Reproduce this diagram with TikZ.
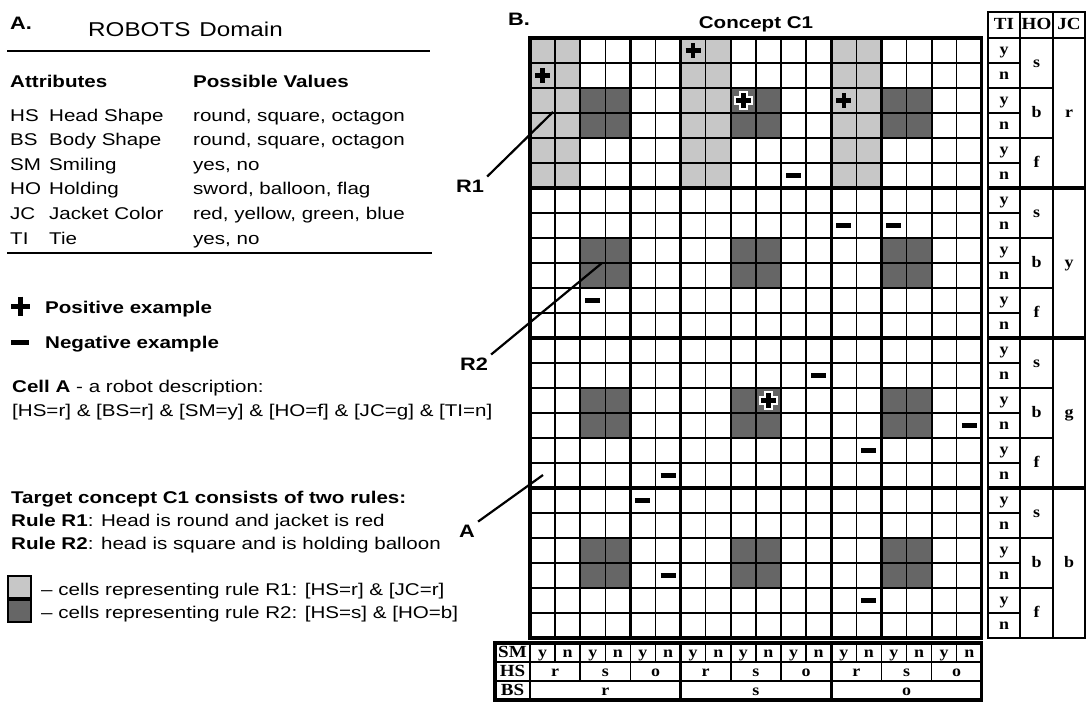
\documentclass[tikz,border=0pt]{standalone}
\usepackage{fontspec}
\setmainfont{Liberation Sans}[FakeStretch=1.21]
\newfontfamily\tabfont{Liberation Serif}[FakeStretch=1.12]
\usetikzlibrary{positioning}

% grid origin and cell size
\newcommand*{\gx}{530}
\newcommand*{\gy}{38}
\newcommand*{\cw}{25.1}
\newcommand*{\rh}{25}

% examples in a cell (column, row)
\newcommand*{\plusat}[2]{%
  \draw[plusline] ({\gx+\cw*(#1+0.5)},{\gy+\rh*(#2+0.5)}) +(-7.5,0) -- +(7.5,0) +(0,-7.5) -- +(0,7.5);}
\newcommand*{\wplusat}[2]{%
  \draw[plusline, white, line width=8.5pt] ({\gx+\cw*(#1+0.5)},{\gy+\rh*(#2+0.5)}) +(-9.5,0) -- +(9.5,0) +(0,-9.5) -- +(0,9.5);
  \plusat{#1}{#2}}
\newcommand*{\minusat}[2]{%
  \draw[minusline] ({\gx+\cw*(#1+0.5)},{\gy+\rh*(#2+0.5)}) +(-7.5,0) -- +(7.5,0);}

\tikzset{
  txt/.style={anchor=base west, inner sep=0pt, font=\fontsize{17}{20}\selectfont},
  btxt/.style={txt, font=\fontsize{17}{20}\selectfont\bfseries},
  lbl/.style={inner sep=3pt, font=\fontsize{18}{20}\selectfont\bfseries},
  tab/.style={inner sep=0pt, text height=11pt, text depth=3pt, font=\tabfont\fontsize{16}{18}\selectfont\bfseries},
  tabhead/.style={tab, font=\tabfont\fontsize{17}{19}\selectfont\bfseries},
  gthin/.style={line width=1.5pt},
  gmid/.style={line width=2.2pt},
  gthick/.style={line width=3.2pt},
  r1cell/.style={fill=black!22},
  r2cell/.style={fill=black!60},
  plusline/.style={line width=4.5pt},
  minusline/.style={line width=4.5pt},
  rule/.style={line width=2pt},
  leader/.style={line width=2.2pt},
}

\begin{document}
\begin{tikzpicture}[x=1pt, y=-1pt]
  \useasboundingbox (0,0) rectangle (1086,724);

  % Panel A: the domain
  \node[btxt, font=\fontsize{18}{20}\selectfont\bfseries] (pa) at (10,29) {A.};
  \node[txt, font=\fontsize{20}{22}\selectfont] (dom) at (88,36) {ROBOTS\hspace{9pt}Domain};
  \draw[rule] (7,51) -- (430,51);
  \node[btxt] (hatt) at (10,87) {Attributes};
  \node[btxt] (hval) at (193,87) {Possible Values};
  \foreach \ab/\nm/\vl [count=\i from 0] in {HS/Head Shape/{round, square, octagon},
      BS/Body Shape/{round, square, octagon}, SM/Smiling/{yes, no},
      HO/Holding/{sword, balloon, flag}, JC/Jacket Color/{red, yellow, green, blue},
      TI/Tie/{yes, no}} {
    \node[txt] (ab\i) at (10,{121+24.6*\i}) {\ab};
    \node[txt] (nm\i) at (49,{121+24.6*\i}) {\nm};
    \node[txt] (vl\i) at (193,{121+24.6*\i}) {\vl};
  }
  \draw[rule] (7,253) -- (432,253);

  % legend of examples
  \draw[line width=5pt] (20.5,306) +(-9.5,0) -- +(9.5,0) +(0,-9.5) -- +(0,9.5);
  \node[btxt] (lpos) at (45,313) {Positive example};
  \draw[line width=5pt] (20,342) +(-9,0) -- +(9,0);
  \node[btxt] (lneg) at (45,348) {Negative example};

  \node[txt] (cella) at (12,392) {\textbf{Cell A} - a robot description:};
  \node[txt] (desc) at (12,416) {[HS=r] \& [BS=r] \& [SM=y] \& [HO=f] \& [JC=g] \& [TI=n]};

  \node[btxt] (target) at (11,503) {Target concept C1 consists of two rules:};
  \node[txt] (rule1) at (11,526) {\textbf{Rule R1}: Head is round and jacket is red};
  \node[txt] (rule2) at (11,549) {\textbf{Rule R2}: head is square and is holding balloon};

  \draw[r1cell, draw=black, line width=1.6pt] (8,576) rectangle (31,598);
  \node[txt] (leg1) at (41,595) {-- cells representing rule R1: [HS=r] \& [JC=r]};
  \draw[r2cell, draw=black, line width=1.6pt] (8,600) rectangle (31,622);
  \node[txt] (leg2) at (41,618) {-- cells representing rule R2: [HS=s] \& [HO=b]};

  % Panel B: the diagram
  \node[btxt, font=\fontsize{18}{20}\selectfont\bfseries] (pb) at (508,25) {B.};
  \node[btxt, anchor=base] (title) at (756,28) {Concept C1};

  % shaded cells
  \foreach \c in {0,1,6,7,12,13}
    \fill[r1cell] ({\gx+\cw*\c},\gy) rectangle ++(\cw,{6*\rh});
  \foreach \c in {2,8,14}
    \foreach \r in {2,8,14,20}
      \fill[r2cell] ({\gx+\cw*\c},{\gy+\rh*\r}) rectangle ++({2*\cw},{2*\rh});

  % grid lines
  \foreach \c in {1,...,17}
    \draw[gthin] ({\gx+\cw*\c},\gy) -- ++(0,{24*\rh});
  \foreach \r in {1,...,23}
    \draw[gthin] (\gx,{\gy+\rh*\r}) -- ++({18*\cw},0);
  \foreach \c in {2,4,8,10,14,16}
    \draw[gmid] ({\gx+\cw*\c},\gy) -- ++(0,{24*\rh});
  \foreach \r in {2,4,8,10,14,16,20,22}
    \draw[gmid] (\gx,{\gy+\rh*\r}) -- ++({18*\cw},0);
  \foreach \c in {6,12}
    \draw[gthick] ({\gx+\cw*\c},\gy) -- ++(0,{24*\rh});
  \foreach \r in {6,12,18}
    \draw[gthick] (\gx,{\gy+\rh*\r}) -- ++({18*\cw},0);
  \draw[gthick] (\gx,\gy) rectangle ++({18*\cw},{24*\rh});

  % examples
  \plusat{0}{1}
  \plusat{6}{0}
  \wplusat{8}{2}
  \plusat{12}{2}
  \wplusat{9}{14}
  \foreach \c/\r in {10/5,12/7,14/7,2/10,11/13,17/15,13/16,5/17,4/18,5/21,13/22} {
    \minusat{\c}{\r}
  }

  % leaders
  \node[lbl] (r1) at (470,186) {R1};
  \node[lbl] (r2) at (474,364) {R2};
  \node[lbl] (a) at (467,531) {A};
  \coordinate (r1end) at (553,112);
  \coordinate (r2end) at (602,263);
  \coordinate (aend) at (543,475);
  \draw[leader] (r1.north east) -- (r1end);
  \draw[leader] (r2.north east) -- (r2end);
  \draw[leader] (a.north east) -- (aend);

  % table on the right: TI, HO, JC
  \draw[gthin] (988,12) rectangle (1020,38);
  \draw[gthin] (1020,12) rectangle (1053,38);
  \draw[gthin] (1053,12) rectangle (1085,38);
  \node[tabhead] (hti) at (1004,25) {TI};
  \node[tabhead] (hho) at (1036.5,25) {HO};
  \node[tabhead] (hjc) at (1069,25) {JC};
  \foreach \r in {0,2,...,22} {
    \draw[gthin] (988,{\gy+\rh*\r}) rectangle (1020,{\gy+\rh*(\r+1)});
    \draw[gthin] (988,{\gy+\rh*(\r+1)}) rectangle (1020,{\gy+\rh*(\r+2)});
    \node[tab] (tiy\r) at (1004,{\gy+\rh*(\r+0.5)}) {y};
    \node[tab] (tin\r) at (1004,{\gy+\rh*(\r+1.5)}) {n};
  }
  \foreach \g in {0,...,3} {
    \foreach \h/\v in {0/s,1/b,2/f} {
      \draw[gthin] (1020,{\gy+150*\g+50*\h}) rectangle (1053,{\gy+150*\g+50*(\h+1)});
      \node[tab] (ho\g\h) at (1036.5,{\gy+150*\g+50*\h+25}) {\v};
    }
  }
  \foreach \g/\v in {0/r,1/y,2/g,3/b} {
    \draw[gthin] (1053,{\gy+150*\g}) rectangle (1085,{\gy+150*(\g+1)});
    \node[tab] (jc\g) at (1069,{\gy+150*\g+75}) {\v};
  }
  \foreach \g in {1,2,3}
    \draw[gthick] (988,{\gy+150*\g}) -- (1086,{\gy+150*\g});
  \draw[gmid] (988,12) -- (988,638);

  % table at the bottom: SM, HS, BS
  \draw[gthin] (495,662) -- ({\gx+18*\cw},662);
  \draw[gthin] (495,681) -- ({\gx+18*\cw},681);
  \draw[gmid] (\gx,643) -- (\gx,700);
  \foreach \c in {1,...,17}
    \draw[gthin] ({\gx+\cw*\c},643) -- ++(0,19);
  \foreach \c in {2,4,8,10,14,16}
    \draw[gthin] ({\gx+\cw*\c},662) -- ++(0,19);
  \foreach \c in {6,12}
    \draw[gthick] ({\gx+\cw*\c},643) -- ++(0,57);
  \draw[gthick] (495,643) rectangle ({\gx+18*\cw},700);
  \node[tabhead] (lsm) at (512.5,653) {SM};
  \node[tabhead] (lhs) at (512.5,672) {HS};
  \node[tabhead] (lbs) at (512.5,691) {BS};
  \foreach \c in {0,2,...,16} {
    \node[tab] (smy\c) at ({\gx+\cw*(\c+0.5)},653) {y};
    \node[tab] (smn\c) at ({\gx+\cw*(\c+1.5)},653) {n};
  }
  \foreach \b in {0,1,2} {
    \foreach \h/\v in {0/r,1/s,2/o} {
      \node[tab] (hs\b\h) at ({\gx+\cw*(6*\b+2*\h+1)},672) {\v};
    }
  }
  \foreach \b/\v in {0/r,1/s,2/o} {
    \node[tab] (bs\b) at ({\gx+\cw*(6*\b+3)},691) {\v};
  }

\end{tikzpicture}
\end{document}
